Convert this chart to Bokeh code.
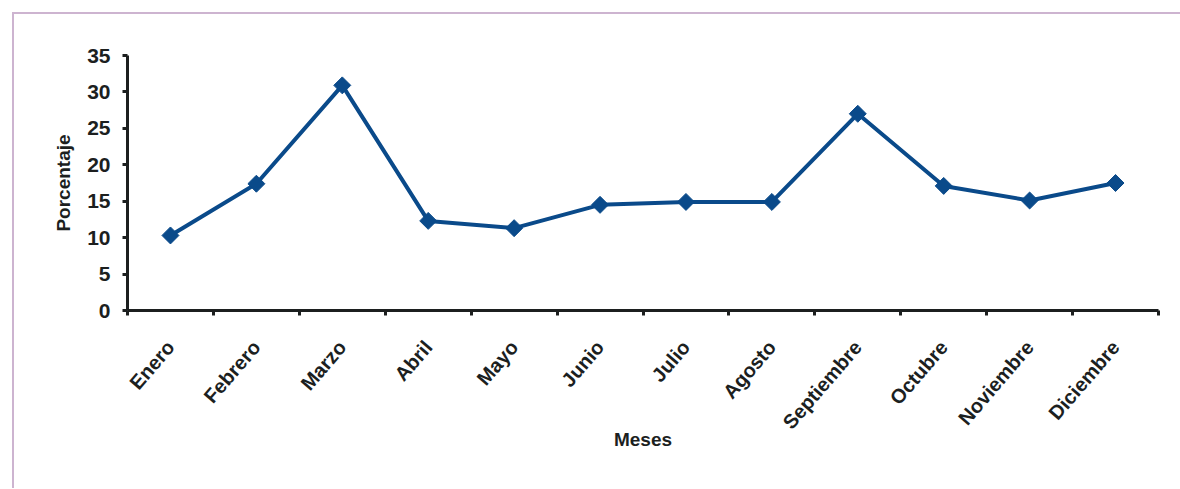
from math import pi

from bokeh.embed import file_html
from bokeh.models import FixedTicker, Range1d
from bokeh.plotting import figure
from bokeh.resources import INLINE

# Monthly share (%)
months = ["Enero", "Febrero", "Marzo", "Abril", "Mayo", "Junio", "Julio",
          "Agosto", "Septiembre", "Octubre", "Noviembre", "Diciembre"]
values = [10.3, 17.4, 30.9, 12.3, 11.3, 14.5, 14.9, 14.9, 27.0, 17.1, 15.1, 17.5]
y_ticks = [0, 5, 10, 15, 20, 25, 30, 35]

FONT = "Liberation Sans"
INK = "#1c1f1f"
BLUE = "#0a4a8a"

# each month sits in the middle of its own slot
xs = [i + 0.5 for i in range(len(months))]

p = figure(
    width=1166, height=474,
    frame_width=1031, frame_height=255,
    min_border_left=113, min_border_top=41, min_border_right=22, min_border_bottom=178,
    x_range=Range1d(0, len(months)), y_range=Range1d(0, 35),
    output_backend="svg", toolbar_location=None,
    margin=(12, 0, 0, 12),
    styles={"border-top": "2px solid #cdb4d0", "border-left": "2px solid #cdb4d0"},
)
p.outline_line_color = None
p.xgrid.grid_line_color = None
p.ygrid.grid_line_color = None
p.background_fill_color = "white"
p.border_fill_color = "white"

p.line(xs, values, line_color=BLUE, line_width=4)
p.scatter(xs, values, marker="square", angle=pi / 4, size=12,
          fill_color=BLUE, line_color=BLUE)

# x axis: month names centred in slots, ticks on slot boundaries
xa = p.xaxis[0]
xa.ticker = FixedTicker(ticks=xs, minor_ticks=list(range(len(months) + 1)))
xa.major_label_overrides = {x: m for x, m in zip(xs, months)}
xa.major_label_orientation = 0.86
xa.major_label_standoff = 28
xa.major_tick_out = 0
xa.major_tick_in = 0
xa.minor_tick_out = 5
xa.minor_tick_in = 0
xa.minor_tick_line_width = 3
xa.minor_tick_line_color = INK
xa.axis_line_width = 3
xa.axis_line_color = INK
xa.major_label_text_font = FONT
xa.major_label_text_font_style = "bold"
xa.major_label_text_font_size = "20px"
xa.major_label_text_color = INK
xa.axis_label = "Meses"
xa.axis_label_text_font = FONT
xa.axis_label_text_font_style = "bold"
xa.axis_label_text_font_size = "19px"
xa.axis_label_text_color = INK
xa.axis_label_standoff = -14

ya = p.yaxis[0]
ya.ticker = FixedTicker(ticks=y_ticks)
ya.minor_tick_out = 0
ya.minor_tick_in = 0
ya.major_tick_out = 5
ya.major_tick_in = 0
ya.major_tick_line_width = 3
ya.major_tick_line_color = INK
ya.axis_line_width = 3
ya.axis_line_color = INK
ya.major_label_standoff = 12
ya.major_label_text_font = FONT
ya.major_label_text_font_style = "bold"
ya.major_label_text_font_size = "21px"
ya.major_label_text_color = INK
ya.axis_label = "Porcentaje"
ya.axis_label_text_font = FONT
ya.axis_label_text_font_style = "bold"
ya.axis_label_text_font_size = "19px"
ya.axis_label_text_color = INK
ya.axis_label_standoff = 10

open("out.html", "w").write(file_html(p, INLINE))
